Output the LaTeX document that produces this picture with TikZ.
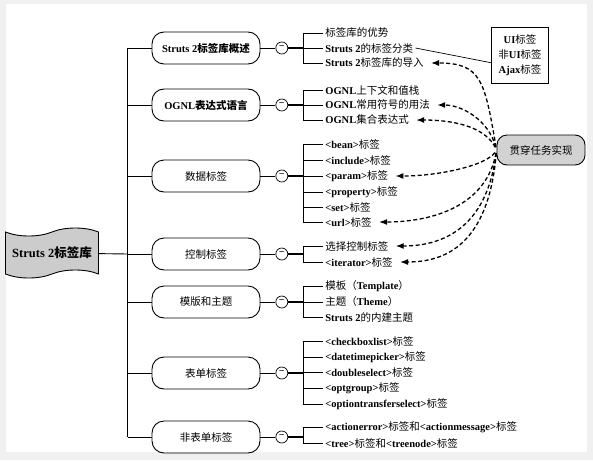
\documentclass[tikz,border=0pt]{standalone}
\usepackage{fontspec}
\setmainfont{Liberation Serif}
\newfontfamily\cjkfont{Noto Sans CJK SC}
\newcommand\cjkseries{\mdseries}
% CJK characters switch to the CJK font
\XeTeXinterchartokenstate=1
\newXeTeXintercharclass\cjkclass
\count255="4E00
\loop
  \XeTeXcharclass\count255=\cjkclass
  \ifnum\count255<"9FFF \advance\count255 by 1 \repeat
\XeTeXcharclass"FF08=\cjkclass
\XeTeXcharclass"FF09=\cjkclass
\XeTeXinterchartoks 0 \cjkclass = {\begingroup\cjkfont\cjkseries}
\XeTeXinterchartoks 4095 \cjkclass = {\begingroup\cjkfont\cjkseries}
\XeTeXinterchartoks \cjkclass 0 = {\endgroup}
\XeTeXinterchartoks \cjkclass 4095 = {\endgroup}
\usepackage{tikz}
\usetikzlibrary{shapes.symbols, arrows.meta, positioning}

\begin{document}
\begin{tikzpicture}[
    x=1pt, y=-1pt, line width=0.7pt,
    branch/.style={rectangle, draw, rounded corners=12pt, line width=0.9pt, minimum width=108pt, minimum height=32pt, font=\fontsize{10.5}{12}\selectfont},
    title/.style={branch, font=\fontsize{10.5}{12}\selectfont\bfseries\let\cjkseries\relax},
    fold/.style={circle, draw, minimum size=12pt, inner sep=0pt, font=\bfseries},
    leaf/.style={anchor=west, inner sep=2pt, font=\fontsize{10.5}{12}\selectfont\bfseries},
    link/.style={-{Latex[length=8pt,width=6pt]}, line width=1.3pt, dash pattern=on 4pt off 2.5pt, shorten >=5pt, shorten <=3pt},
]
\fill [gray!12] (0,0) rectangle (593,460);
\fill [white] (6,4) rectangle (587,452);
\useasboundingbox (0,0) rectangle (593,460);

% Root
\node (root) [tape, draw, fill=gray!40, line width=0.9pt, minimum width=93pt, minimum height=50pt, tape bend height=8pt,
    font=\fontsize{12.5}{14}\selectfont\bfseries\let\cjkseries\relax] at (52,253) {Struts 2标签库};

% Branches
\node (b1) [title] at (206,48) {Struts 2标签库概述};
\node (b2) [title] at (206,105) {OGNL表达式语言};
\node (b3) [branch] at (206,176) {数据标签};
\node (b4) [branch] at (206,254) {控制标签};
\node (b5) [branch] at (206,302) {模版和主题};
\node (b6) [branch] at (206,373) {表单标签};
\node (b7) [branch] at (206,437) {非表单标签};

\coordinate (t0) at (128,254);
\foreach \i in {1,...,7} {
  \coordinate (t\i) at ([xshift=-24pt]b\i.west);
  \node (m\i) [fold, right=15pt of b\i] {−};
  \coordinate (j\i) at ([xshift=15pt]m\i.east);
}

% Leaves
\node (g1-1) [leaf] at (323,33) {标签库的优势};
\node (g1-2) [leaf] at (323,48) {Struts 2的标签分类};
\node (g1-3) [leaf] at (323,63) {Struts 2标签库的导入};

\node (g2-1) [leaf] at (323,90) {OGNL上下文和值栈};
\node (g2-2) [leaf] at (323,105) {OGNL常用符号的用法};
\node (g2-3) [leaf] at (323,120) {OGNL集合表达式};

\node (g3-1) [leaf] at (323,144) {<bean>标签};
\node (g3-2) [leaf] at (323,160) {<include>标签};
\node (g3-3) [leaf] at (323,176) {<param>标签};
\node (g3-4) [leaf] at (323,192) {<property>标签};
\node (g3-5) [leaf] at (323,207) {<set>标签};
\node (g3-6) [leaf] at (323,222) {<url>标签};

\node (g4-1) [leaf] at (323,246) {选择控制标签};
\node (g4-2) [leaf] at (323,262) {<iterator>标签};

\node (g5-1) [leaf] at (323,286) {模板（Template）};
\node (g5-2) [leaf] at (323,302) {主题（Theme）};
\node (g5-3) [leaf] at (323,317) {Struts 2的内建主题};

\node (g6-1) [leaf] at (323,341) {<checkboxlist>标签};
\node (g6-2) [leaf] at (323,357) {<datetimepicker>标签};
\node (g6-3) [leaf] at (323,372) {<doubleselect>标签};
\node (g6-4) [leaf] at (323,388) {<optgroup>标签};
\node (g6-5) [leaf] at (323,404) {<optiontransferselect>标签};

\node (g7-1) [leaf] at (323,427) {<actionerror>标签和<actionmessage>标签};
\node (g7-2) [leaf] at (323,443) {<tree>标签和<treenode>标签};

% Side boxes
\node (kinds) [draw, line width=0.8pt, align=center, minimum width=57pt, minimum height=56pt,
    font=\fontsize{10.5}{15}\selectfont\bfseries] at (520,55) {UI标签\\非UI标签\\Ajax标签};
\node (task) [draw, fill=gray!35, rounded corners=10pt, line width=0.9pt, minimum width=88pt, minimum height=30pt,
    font=\fontsize{10.5}{12}\selectfont] at (541,150) {贯穿任务实现};

% Lines
\draw [line width=0.9pt] (root) -- (t0);
\draw [line width=0.9pt] (t1) -- (t7);
\foreach \i in {1,...,7} {
  \draw (t\i) -- (b\i) (b\i) -- (m\i);
  \draw [line width=1.3pt] (m\i) -- (j\i);
}
\foreach \i/\n in {1/3, 2/3, 3/6, 4/2, 5/3, 6/5, 7/2}
  \foreach \k in {1,...,\n}
    \draw (j\i) |- (g\i-\k.west);
\draw (g1-2.east) -- (kinds.195);

% Arrows
\draw [link] (task.west) .. controls +(-12,-70) and +(55,0) .. (g1-3.east);
\draw [link] (task.west) .. controls +(-8,-30) and +(30,0) .. (g2-2.east);
\draw [link] (task.west) .. controls +(-10,-20) and +(50,0) .. (g2-3.east);
\draw [link] (task.west) .. controls +(-10,15) and +(50,0) .. (g3-3.east);
\draw [link] (task.west) .. controls +(-10,55) and +(60,0) .. (g3-6.east);
\draw [link] (task.west) .. controls +(-10,80) and +(50,0) .. (g4-1.east);
\draw [link] (task.west) .. controls +(-8,95) and +(50,0) .. (g4-2.east);

\end{tikzpicture}
\end{document}
